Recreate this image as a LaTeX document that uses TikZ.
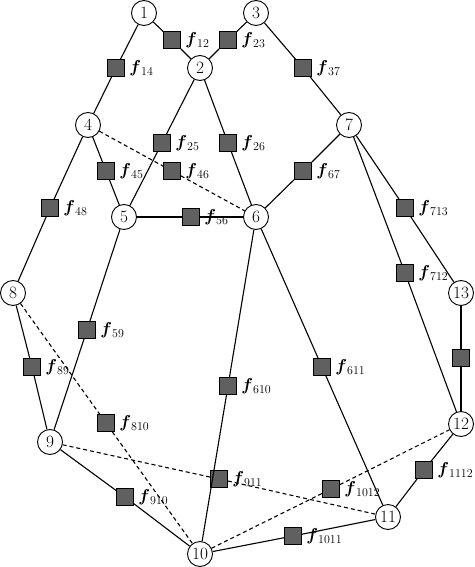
\documentclass[tikz,border=0pt]{standalone}
\usepackage{amsmath}
\begin{document}
\begin{tikzpicture}[x=1pt,y=-1pt,
  font=\fontsize{17.28}{20}\selectfont,
  var/.style={circle,draw,line width=0.9pt,fill=white,minimum size=25pt,inner sep=0pt},
  fac/.style={rectangle,draw,line width=0.8pt,fill={rgb,255:red,96;green,96;blue,96},minimum size=17pt,inner sep=0pt},
  lab/.style={label distance=1pt},
  edge/.style={line width=1.1pt},
  dedge/.style={line width=1.1pt,dashed,dash pattern=on 4pt off 3pt}]
\useasboundingbox (0,0) rectangle (474,567);
% variable nodes
\node[var] (n1) at (144,13) {1};
\node[var] (n2) at (200,68) {2};
\node[var] (n3) at (256,13) {3};
\node[var] (n4) at (88,125) {4};
\node[var] (n5) at (124,217) {5};
\node[var] (n6) at (256,217) {6};
\node[var] (n7) at (349,125) {7};
\node[var] (n8) at (13,293) {8};
\node[var] (n9) at (50,442) {9};
\node[var] (n10) at (200,554) {10};
\node[var] (n11) at (388,517) {11};
\node[var] (n12) at (461,424) {12};
\node[var] (n13) at (461,293) {13};
% factor nodes
\node[fac,label={[lab]right:$\boldsymbol{f}_{12}$}] (f12) at (172,40) {};
\node[fac,label={[lab]right:$\boldsymbol{f}_{23}$}] (f23) at (228,40) {};
\node[fac,label={[lab]right:$\boldsymbol{f}_{14}$}] (f14) at (116,68) {};
\node[fac,label={[lab]right:$\boldsymbol{f}_{37}$}] (f37) at (303,68) {};
\node[fac,label={[lab]right:$\boldsymbol{f}_{25}$}] (f25) at (162,143) {};
\node[fac,label={[lab]right:$\boldsymbol{f}_{26}$}] (f26) at (228,143) {};
\node[fac,label={[lab]right:$\boldsymbol{f}_{45}$}] (f45) at (106,171) {};
\node[fac,label={[lab]right:$\boldsymbol{f}_{46}$}] (f46) at (172,171) {};
\node[fac,label={[lab]right:$\boldsymbol{f}_{67}$}] (f67) at (303,171) {};
\node[fac,label={[lab]right:$\boldsymbol{f}_{48}$}] (f48) at (50,208) {};
\node[fac,label={[lab]right:$\boldsymbol{f}_{56}$}] (f56) at (191,217) {};
\node[fac,label={[lab]right:$\boldsymbol{f}_{713}$}] (f713) at (405,208) {};
\node[fac,label={[lab]right:$\boldsymbol{f}_{712}$}] (f712) at (405,273) {};
\node[fac,label={[lab]right:$\boldsymbol{f}_{59}$}] (f59) at (87,330) {};
\node[fac,label={[lab]right:$\boldsymbol{f}_{89}$}] (f89) at (32,367) {};
\node[fac,label={[lab]right:$\boldsymbol{f}_{610}$}] (f610) at (228,386) {};
\node[fac,label={[lab]right:$\boldsymbol{f}_{611}$}] (f611) at (322,367) {};
\node[fac,label={[lab]right:$\boldsymbol{f}_{810}$}] (f810) at (106,423) {};
\node[fac,label={[lab]right:$\boldsymbol{f}_{911}$}] (f911) at (219,479) {};
\node[fac,label={[lab]right:$\boldsymbol{f}_{1012}$}] (f1012) at (331,489) {};
\node[fac,label={[lab]right:$\boldsymbol{f}_{910}$}] (f910) at (125,497) {};
\node[fac,label={[lab]right:$\boldsymbol{f}_{1112}$}] (f1112) at (424,470) {};
\node[fac,label={[lab]right:$\boldsymbol{f}_{1011}$}] (f1011) at (293,536) {};
\node[fac] (f1213) at (461,358) {};
% solid edges
\draw[edge] (n1) -- (f12) -- (n2);
\draw[edge] (n2) -- (f23) -- (n3);
\draw[edge] (n1) -- (f14) -- (n4);
\draw[edge] (n3) -- (f37) -- (n7);
\draw[edge] (n2) -- (f25) -- (n5);
\draw[edge] (n2) -- (f26) -- (n6);
\draw[edge] (n4) -- (f45) -- (n5);
\draw[edge] (n7) -- (f67) -- (n6);
\draw[edge] (n4) -- (f48) -- (n8);
\draw[edge] (n5) -- (f56) -- (n6);
\draw[edge] (n7) -- (f713) -- (n13);
\draw[edge] (n7) -- (f712) -- (n12);
\draw[edge] (n5) -- (f59) -- (n9);
\draw[edge] (n8) -- (f89) -- (n9);
\draw[edge] (n6) -- (f610) -- (n10);
\draw[edge] (n6) -- (f611) -- (n11);
\draw[edge] (n9) -- (f910) -- (n10);
\draw[edge] (n11) -- (f1112) -- (n12);
\draw[edge] (n10) -- (f1011) -- (n11);
\draw[edge] (n13) -- (f1213) -- (n12);
% dashed edges
\draw[dedge] (n4) -- (f46) -- (n6);
\draw[dedge] (n8) -- (f810) -- (n10);
\draw[dedge] (n9) -- (f911) -- (n11);
\draw[dedge] (n10) -- (f1012) -- (n12);
\end{tikzpicture}
\end{document}
